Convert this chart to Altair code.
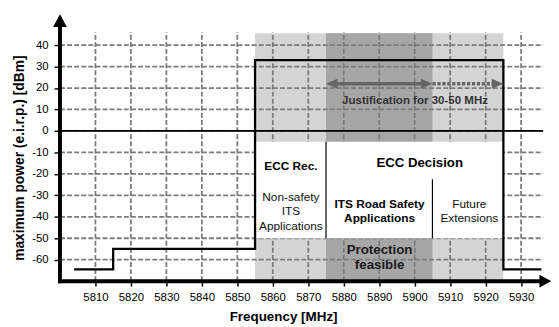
import altair as alt
import pandas as pd

FONT = "Liberation Sans"

# ---------------- data ----------------
x_ticks = [5810, 5820, 5830, 5840, 5850, 5860, 5870, 5880, 5890, 5900, 5910, 5920, 5930]
y_ticks = [-60, -50, -40, -30, -20, -10, 0, 10, 20, 30, 40]

X_DOMAIN = [5800, 5936.2]
Y_DOMAIN = [-70, 46]

# spectrum mask (max e.i.r.p.)
mask_freq = [5804, 5815, 5815, 5855, 5855, 5925, 5925, 5935.7]
mask_power = [-64.5, -64.5, -55, -55, 33, 33, -64.5, -64.5]

# shaded bands
band_start = [5855, 5875]
band_end = [5925, 5905]
band_low = [-70, -70]
band_high = [45.5, 45.5]
band_fill = ["#d4d4d4", "#a6a6a6"]

# white label box
box_start = [5855]
box_end = [5925]
box_low = [-50]
box_high = [-5]

# box dividers
div_freq = [5875, 5905]
div_top = [-5, -22.5]
div_bottom = [-50, -50]

# justification arrow
arrow_level = 22
arrow_solid = [5876.5, 5903]
arrow_dotted = [5905, 5923]
head_freq = [5875, 5905, 5925]
head_shape = ["M0,0L2,-0.85L2,0.85Z", "M0,0L-2,-0.85L-2,0.85Z", "M0,0L-2,-0.85L-2,0.85Z"]

# axis arrow heads
yhead_pos = [5800, 54.4]
xhead_pos = [5938.5, -70]

# labels
bold12_text = ["ECC Rec.", "ITS Road Safety", "Applications"]
bold12_x = [5865.1, 5890.1, 5890.1]
bold12_y = [-16.4, -33.9, -40.4]

bold13_text = ["ECC Decision"]
bold13_x = [5901.4]
bold13_y = [-15.1]

reg12_text = ["Non-safety", "ITS", "Applications", "Future", "Extensions"]
reg12_x = [5865.1, 5865.1, 5865.1, 5915.4, 5915.4]
reg12_y = [-30.7, -37.5, -44.1, -33.9, -40.4]

prot_text = ["Protection", "feasible"]
prot_x = [5890.1, 5890.1]
prot_y = [-55.4, -62.6]

just_text = ["Justification for 30-50 MHz"]
just_x = [5900.1]
just_y = [14.4]

# ---------------- scales / axes ----------------
xs = alt.Scale(domain=X_DOMAIN, nice=False, zero=False)
ys = alt.Scale(domain=Y_DOMAIN, nice=False, zero=False)

x_axis = alt.Axis(
    values=x_ticks, title="Frequency [MHz]", grid=False, domain=False,
    ticks=True, tickSize=5, tickWidth=1.5, tickColor="black",
    labelFont=FONT, labelFontSize=11.5, labelColor="black", labelPadding=6,
    labelOverlap=False, labelFlush=False, labelExpr="'' + datum.value",
    titleFont=FONT, titleFontSize=13.6, titleFontWeight="bold", titleColor="black",
    titleX=226.3, titleY=35.7, titleBaseline="middle", titleAlign="center",
)
y_axis = alt.Axis(
    values=y_ticks, title="maximum power (e.i.r.p.) [dBm]", grid=False, domain=False,
    ticks=True, tickSize=6, tickWidth=1.5, tickColor="black",
    labelFont=FONT, labelFontSize=11.5, labelColor="black", labelPadding=6,
    labelOverlap=False, labelFlush=False, labelExpr="'' + datum.value",
    titleFont=FONT, titleFontSize=14, titleFontWeight="bold", titleColor="black",
    titleAngle=270, titleX=-40.7, titleY=127.2, titleBaseline="middle", titleAlign="center",
)


def X(f):
    return alt.X(f, type="quantitative", scale=xs, axis=x_axis)


def Y(f):
    return alt.Y(f, type="quantitative", scale=ys, axis=y_axis)


# ---------------- layers ----------------
bands = pd.DataFrame({"x": band_start, "x2": band_end, "y": band_low, "y2": band_high, "c": band_fill})
band_layer = alt.Chart(bands).mark_rect().encode(
    x=X("x"), x2="x2", y=Y("y"), y2="y2",
    color=alt.Color("c:N", scale=None),
)

vgrid = pd.DataFrame({"x": x_ticks, "y": [Y_DOMAIN[0]] * len(x_ticks), "y2": [Y_DOMAIN[1]] * len(x_ticks)})
vgrid_layer = alt.Chart(vgrid).mark_rule(color="#7c7c7c", strokeWidth=1.8, strokeDash=[5, 2.2]).encode(
    x=X("x"), y=Y("y"), y2="y2"
)
hgrid = pd.DataFrame({"y": y_ticks, "x": [X_DOMAIN[0]] * len(y_ticks), "x2": [X_DOMAIN[1]] * len(y_ticks)})
hgrid_layer = alt.Chart(hgrid).mark_rule(color="#7c7c7c", strokeWidth=1.8, strokeDash=[5, 2.2]).encode(
    y=Y("y"), x=X("x"), x2="x2"
)

box = pd.DataFrame({"x": box_start, "x2": box_end, "y": box_low, "y2": box_high})
box_layer = alt.Chart(box).mark_rect(color="white").encode(x=X("x"), x2="x2", y=Y("y"), y2="y2")

divs = pd.DataFrame({"x": div_freq, "y": div_top, "y2": div_bottom})
div_layer = alt.Chart(divs).mark_rule(color="black", strokeWidth=1.2).encode(x=X("x"), y=Y("y"), y2="y2")

zero = pd.DataFrame({"y": [0], "x": [X_DOMAIN[0]], "x2": [X_DOMAIN[1]]})
zero_layer = alt.Chart(zero).mark_rule(color="black", strokeWidth=1.8).encode(y=Y("y"), x=X("x"), x2="x2")

mask = pd.DataFrame({"x": mask_freq, "y": mask_power, "o": list(range(len(mask_freq)))})
mask_layer = alt.Chart(mask).mark_line(color="black", strokeWidth=2.3).encode(
    x=X("x"), y=Y("y"), order="o:Q"
)

arr_s = pd.DataFrame({"x": [arrow_solid[0]], "x2": [arrow_solid[1]], "y": [arrow_level]})
arr_s_layer = alt.Chart(arr_s).mark_rule(color="#666666", strokeWidth=3.5).encode(x=X("x"), x2="x2", y=Y("y"))
arr_d = pd.DataFrame({"x": [arrow_dotted[0]], "x2": [arrow_dotted[1]], "y": [arrow_level]})
arr_d_layer = alt.Chart(arr_d).mark_rule(color="#666666", strokeWidth=3.5, strokeDash=[3.3, 1.7]).encode(
    x=X("x"), x2="x2", y=Y("y")
)
heads = pd.DataFrame({"x": head_freq, "y": [arrow_level] * 3, "s": head_shape})
heads_layer = alt.Chart(heads).mark_point(filled=True, color="#666666", opacity=1, size=137, strokeWidth=0).encode(
    x=X("x"), y=Y("y"), shape=alt.Shape("s:N", scale=None)
)

# axis lines
yline = pd.DataFrame({"x": [X_DOMAIN[0]], "y": [Y_DOMAIN[0]], "y2": [52]})
yline_layer = alt.Chart(yline).mark_rule(color="black", strokeWidth=4, strokeCap="square").encode(
    x=X("x"), y=Y("y"), y2="y2"
)
xline = pd.DataFrame({"y": [Y_DOMAIN[0]], "x": [X_DOMAIN[0]], "x2": [5936]})
xline_layer = alt.Chart(xline).mark_rule(color="black", strokeWidth=4, strokeCap="square").encode(
    y=Y("y"), x=X("x"), x2="x2"
)
yhead = pd.DataFrame({"x": [yhead_pos[0]], "y": [yhead_pos[1]]})
yhead_layer = alt.Chart(yhead).mark_point(
    shape="M0,0L-1,1.85L1,1.85Z", filled=True, color="black", opacity=1, size=196, strokeWidth=0
).encode(x=X("x"), y=Y("y"))
xhead = pd.DataFrame({"x": [xhead_pos[0]], "y": [xhead_pos[1]]})
xhead_layer = alt.Chart(xhead).mark_point(
    shape="M0,0L-1.85,-1L-1.85,1Z", filled=True, color="black", opacity=1, size=169, strokeWidth=0
).encode(x=X("x"), y=Y("y"))


def text_layer(texts, xv, yv, size, weight, color="black"):
    df = pd.DataFrame({"t": texts, "x": xv, "y": yv})
    return alt.Chart(df).mark_text(
        font=FONT, fontSize=size, fontWeight=weight, color=color, align="center", baseline="middle"
    ).encode(x=X("x"), y=Y("y"), text="t:N")


t1 = text_layer(bold12_text, bold12_x, bold12_y, 12, "bold")
t2 = text_layer(bold13_text, bold13_x, bold13_y, 13.4, "bold")
t3 = text_layer(reg12_text, reg12_x, reg12_y, 12, "normal", "#111111")
t4 = text_layer(prot_text, prot_x, prot_y, 13.5, "bold", "#1a1a1a")
t5 = text_layer(just_text, just_x, just_y, 11.7, "bold", "#333333")

chart = alt.layer(
    band_layer, vgrid_layer, hgrid_layer, box_layer, div_layer, zero_layer, mask_layer,
    arr_s_layer, arr_d_layer, heads_layer, t1, t2, t3, t4, t5,
    yline_layer, xline_layer, yhead_layer, xhead_layer,
).properties(
    width=490, height=252.5,
    autosize=alt.AutoSizeParams(type="none"),
    padding={"left": 52.7, "top": 22.3, "right": 8, "bottom": 44},
).configure_view(strokeWidth=0)

chart.save("out.html", embed_options={"renderer": "svg", "actions": False})
